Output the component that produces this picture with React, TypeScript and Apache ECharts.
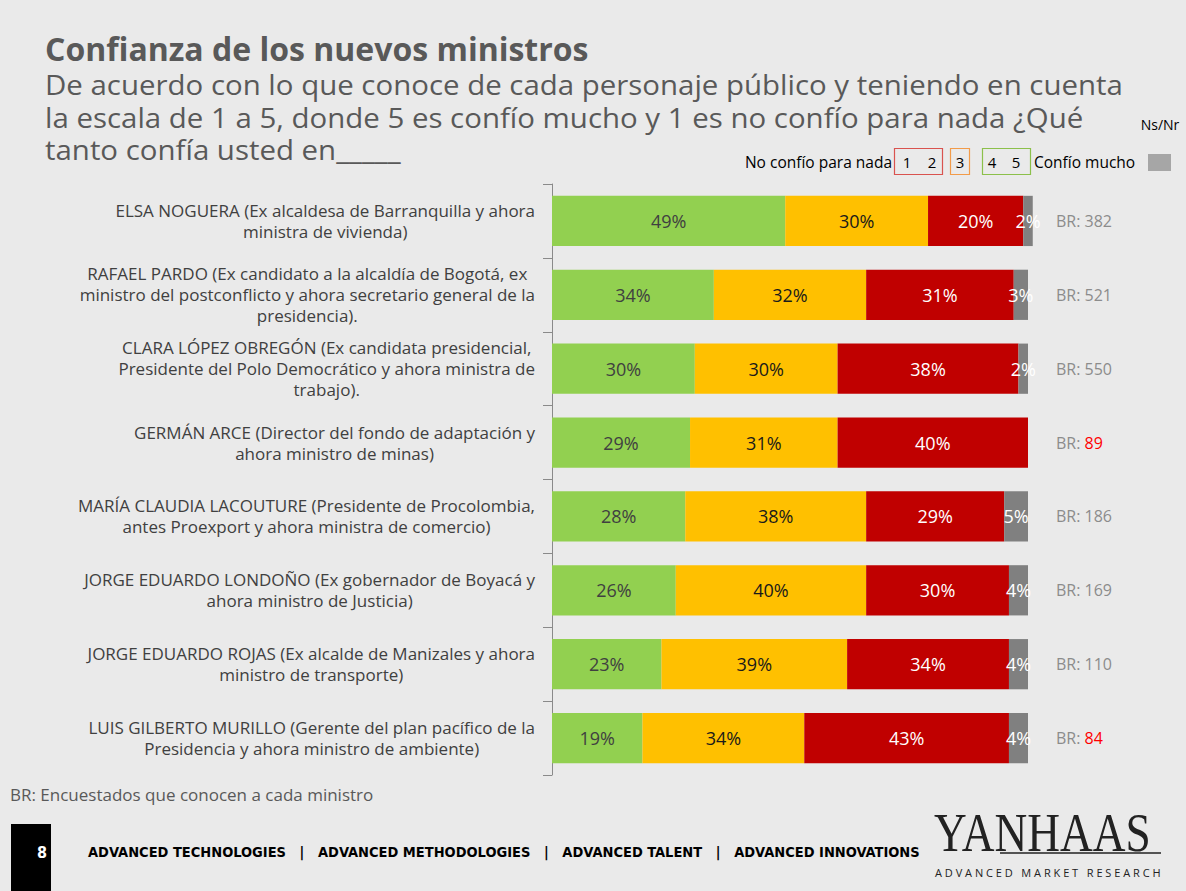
import React, { useEffect, useRef } from "react";
import * as echarts from "echarts";

// Ministers, top to bottom
const categories = [
  "ELSA NOGUERA (Ex alcaldesa de Barranquilla y ahora\nministra de vivienda)",
  "RAFAEL PARDO (Ex candidato a la alcaldía de Bogotá, ex\nministro del postconflicto y ahora secretario general de la\npresidencia).",
  "CLARA LÓPEZ OBREGÓN (Ex candidata presidencial,\nPresidente del Polo Democrático y ahora ministra de\ntrabajo).",
  "GERMÁN ARCE (Director del fondo de adaptación y\nahora ministro de minas)",
  "MARÍA CLAUDIA LACOUTURE (Presidente de Procolombia,\nantes Proexport y ahora ministra de comercio)",
  "JORGE EDUARDO LONDOÑO (Ex gobernador de Boyacá y\nahora ministro de Justicia)",
  "JORGE EDUARDO ROJAS (Ex alcalde de Manizales y ahora\nministro de transporte)",
  "LUIS GILBERTO MURILLO (Gerente del plan pacífico de la\nPresidencia y ahora ministro de ambiente)",
];

// Share of respondents per answer group (%)
const confioMucho = [49, 34, 30, 29, 28, 26, 23, 19]; // 4-5
const intermedio = [30, 32, 30, 31, 38, 40, 39, 34]; // 3
const noConfio = [20, 31, 38, 40, 29, 30, 34, 43]; // 1-2
const nsNr = [2, 3, 2, 0, 5, 4, 4, 4];

// Base: respondents who know each minister
const brBase = [382, 521, 550, 89, 186, 169, 110, 84];
const lowBaseLimit = 100;

const FONT = "Open Sans";

export default function App() {
  const ref = useRef<HTMLDivElement>(null);

  useEffect(() => {
    if (!ref.current) return;
    const chart = echarts.init(ref.current, undefined, { renderer: "svg" });

    const pct = (p: any) => (p.value > 0 ? `${p.value}%` : "");
    const barSeries = (name: string, data: number[], color: string, labelColor: string) => ({
      name,
      type: "bar",
      stack: "total",
      data,
      barCategoryGap: "32%",
      clip: false,
      itemStyle: { color },
      label: {
        show: true,
        position: "inside",
        formatter: pct,
        color: labelColor,
        fontFamily: FONT,
        fontSize: 18,
      },
    });

    const t = (x: number, y: number, text: string, size: number, extra: any = {}, sx = 1) => ({
      type: "text",
      x,
      y,
      scaleX: sx,
      style: {
        text,
        fontFamily: FONT,
        fontSize: size,
        fill: "#000000",
        verticalAlign: "middle",
        align: "left",
        ...extra,
      },
    });

    chart.setOption({
      animation: false,
      backgroundColor: "#eaeaea",
      grid: { left: 552, right: 158, top: 184, bottom: 116, containLabel: false },
      xAxis: {
        type: "value",
        min: 0,
        max: 100,
        show: false,
      },
      yAxis: [
        {
          type: "category",
          data: categories,
          inverse: true,
          axisLine: { show: true, lineStyle: { color: "#8a8a8a", width: 1 } },
          axisTick: { show: true, length: 9, lineStyle: { color: "#8a8a8a" } },
          axisLabel: {
            margin: 17,
            align: "right",
            lineHeight: 21,
            formatter: (v: string) =>
              v
                .split("\n")
                .map((l) => `{c|${l}}`)
                .join("\n"),
            rich: {
              c: {
                align: "center",
                fontFamily: FONT,
                fontSize: 17,
                color: "#404040",
                lineHeight: 21,
              },
            },
          },
        },
        {
          type: "category",
          data: brBase.map(String),
          inverse: true,
          position: "right",
          axisLine: { show: false },
          axisTick: { show: false },
          axisLabel: {
            margin: 28,
            align: "left",
            formatter: (v: string) =>
              `{g|BR: }{${Number(v) < lowBaseLimit ? "r" : "g"}|${v}}`,
            rich: {
              g: { fontFamily: FONT, fontSize: 16, color: "#8c8c8c" },
              r: { fontFamily: FONT, fontSize: 16, color: "#ff0000" },
            },
          },
        },
      ],
      series: [
        barSeries("4 5", confioMucho, "#92d050", "#404040"),
        barSeries("3", intermedio, "#ffc000", "#1a1a1a"),
        barSeries("1 2", noConfio, "#c00000", "#ffffff"),
        barSeries("Ns/Nr", nsNr, "#808080", "#ffffff"),
      ],
      graphic: [
        // Title and question
        t(45, 48, "Confianza de los nuevos ministros", 32, { fontWeight: "bold", fill: "#595959" }),
        t(45, 84, "De acuerdo con lo que conoce de cada personaje público y teniendo en cuenta", 27, { fill: "#595959" }, 1.09),
        t(45, 117, "la escala de 1 a 5, donde 5 es confío mucho y 1 es no confío para nada ¿Qué", 27, { fill: "#595959" }, 1.09),
        t(45, 149, "tanto confía usted en_____", 27, { fill: "#595959" }, 1.09),

        // Scale legend
        t(1160, 124, "Ns/Nr", 14, { align: "center" }),
        t(892, 162, "No confío para nada", 15.5, { align: "right" }),
        { type: "rect", shape: { x: 894.5, y: 148.5, width: 48, height: 26 }, style: { fill: "none", stroke: "#d9534f", lineWidth: 1.2 } },
        t(907, 162, "1", 15, { align: "center" }),
        t(932, 162, "2", 15, { align: "center" }),
        { type: "rect", shape: { x: 950.5, y: 148.5, width: 19, height: 26 }, style: { fill: "none", stroke: "#f29b49", lineWidth: 1.2 } },
        t(960, 162, "3", 15, { align: "center" }),
        { type: "rect", shape: { x: 982.5, y: 148.5, width: 48, height: 26 }, style: { fill: "none", stroke: "#8cc04b", lineWidth: 1.2 } },
        t(992, 162, "4", 15, { align: "center" }),
        t(1016, 162, "5", 15, { align: "center" }),
        t(1034, 162, "Confío mucho", 15.5),
        { type: "rect", shape: { x: 1148, y: 154, width: 23, height: 17 }, style: { fill: "#a6a6a6" } },

        // Base note
        t(10, 794, "BR: Encuestados que conocen a cada ministro", 17, { fill: "#595959" }),

        // Footer
        { type: "rect", shape: { x: 11, y: 824, width: 40, height: 67 }, style: { fill: "#000000" } },
        t(42, 852, "8", 16, { fontWeight: "bold", fill: "#ffffff", align: "center", fontFamily: "DejaVu Sans Condensed" }),
        t(88, 852, "ADVANCED TECHNOLOGIES   |   ADVANCED METHODOLOGIES   |   ADVANCED TALENT   |   ADVANCED INNOVATIONS", 14.5, {
          fontWeight: "bold",
          fontFamily: "DejaVu Sans Condensed",
        }),

        // Logo
        {
          type: "text",
          x: 934,
          y: 833,
          scaleX: 0.84,
          style: {
            text: "YANHAAS",
            fontFamily: "Liberation Serif",
            fontSize: 54,
            fill: "#222222",
            verticalAlign: "middle",
            align: "left",
          },
        },
        { type: "line", shape: { x1: 1000, y1: 853, x2: 1161, y2: 853 }, style: { stroke: "#222222", lineWidth: 1.5 } },
        t(935, 872, "A D V A N C E D   M A R K E T   R E S E A R C H", 11, { fill: "#222222" }),
      ],
    });

    return () => chart.dispose();
  }, []);

  return (
    <div
      ref={ref}
      style={{ position: "fixed", left: 0, top: 0, width: 1186, height: 891 }}
    />
  );
}
